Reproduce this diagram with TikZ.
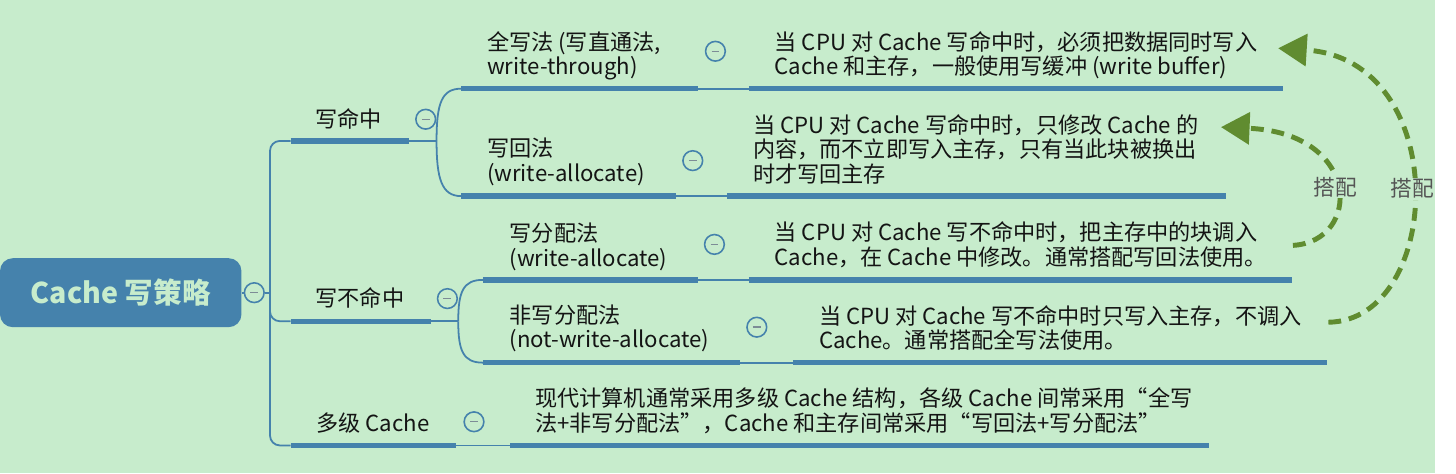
\documentclass[tikz,border=0pt]{standalone}
\usepackage{fontspec}
\setmainfont{Noto Sans CJK SC}
\usetikzlibrary{arrows.meta}

\definecolor{bg}{RGB}{199,236,204}
\definecolor{branch}{RGB}{69,130,172}
\definecolor{match}{RGB}{96,140,48}
\definecolor{ink}{RGB}{20,20,20}
\definecolor{knob}{RGB}{125,140,150}
\definecolor{note}{RGB}{85,85,85}

\tikzset{
	topic/.style={anchor=base west, inner sep=0pt, align=left, text=ink, font=\fontsize{22.5}{25}\selectfont},
	root/.style={rectangle, rounded corners=13pt, fill=branch, minimum width=245pt, minimum height=70pt, text=bg, font=\bfseries\fontsize{29}{29}\selectfont},
	fold/.style={circle, draw=branch, line width=1.6pt, fill=bg, minimum size=20pt, inner sep=0pt,
		path picture={\draw[knob, line width=1.4pt] ([xshift=-4pt]path picture bounding box.center) -- ([xshift=4pt]path picture bounding box.center);}},
	bar/.style={draw=branch, line width=5.5pt},
	link/.style={draw=branch, line width=1.8pt}
}

\begin{document}
\begin{tikzpicture}[x=1pt, y=-1pt,
		pair/.style={draw=match, line width=5pt, dash pattern=on 13pt off 8pt, -{Triangle[length=29pt,width=32pt]}},
		tag/.style={fill=bg, inner sep=1pt, text=note, font=\fontsize{22}{22}\selectfont}]
		\fill[bg] (0,0) rectangle (1456,480);
		
		\node[root] (root) at (122.5,297) {Cache 写策略};
		\node[fold] (f0) at (258,297) {};
		\coordinate (trunk) at (274,297);
		
		\node[topic] (hit) at (320,129) {写命中};
		\node[topic] (miss) at (320,311) {写不命中};
		\node[topic] (multi) at (321,438) {多级 Cache};
		\node[fold] (f1) at (432,121) {};
		\node[fold] (f2) at (454,303) {};
		\node[fold] (f3) at (481,428) {};
		
		\node[topic] (wt) at (494,76) {全写法 (写直通法,\\write-through)};
		\node[topic] (wb) at (494,184) {写回法\\(write-allocate)};
		\node[topic] (wa) at (517,270) {写分配法\\(write-allocate)};
		\node[topic] (nwa) at (517,353) {非写分配法\\(not-write-allocate)};
		\node[fold] (f4) at (726,52) {};
		\node[fold] (f5) at (703,163) {};
		\node[fold] (f6) at (725,248) {};
		\node[fold] (f7) at (768,332) {};
		
		\node[topic] (d1) at (786,76) {当 CPU 对 Cache 写命中时，必须把数据同时写入\\Cache 和主存，一般使用写缓冲 (write buffer)};
		\node[topic] (d2) at (764,185) {当 CPU 对 Cache 写命中时，只修改 Cache 的\\内容，而不立即写入主存，只有当此块被换出\\时才写回主存};
		\node[topic] (d3) at (786,269) {当 CPU 对 Cache 写不命中时，把主存中的块调入\\Cache，在 Cache 中修改。通常搭配写回法使用。};
		\node[topic] (d4) at (831,354) {当 CPU 对 Cache 写不命中时只写入主存，不调入\\Cache。通常搭配全写法使用。};
		\node[topic] (d5) at (543,438) {现代计算机通常采用多级 Cache 结构，各级 Cache 间常采用“全写\\法+非写分配法”，Cache 和主存间常采用“写回法+写分配法”};
		
		\draw[bar] (295,143) coordinate (hitL) -- ++(120,0) coordinate (hitR);
		\draw[bar] (295,326) coordinate (missL) -- ++(142,0) coordinate (missR);
		\draw[bar] (295,452) coordinate (multiL) -- ++(168,0) coordinate (multiR);
		\draw[bar] (468,90) coordinate (wtL) -- ++(240,0) coordinate (wtR);
		\draw[bar] (468,199) coordinate (wbL) -- ++(218,0) coordinate (wbR);
		\draw[bar] (490,284) coordinate (waL) -- ++(218,0) coordinate (waR);
		\draw[bar] (490,368) coordinate (nwaL) -- ++(261,0) coordinate (nwaR);
		\draw[bar] (760,90) coordinate (d1L) -- ++(542,0);
		\draw[bar] (738,199) coordinate (d2L) -- ++(506,0);
		\draw[bar] (760,284) coordinate (d3L) -- ++(551,0);
		\draw[bar] (805,368) coordinate (d4L) -- ++(542,0);
		\draw[bar] (518,452) coordinate (d5L) -- ++(709,0);
		
		\draw[link] (root) -- (f0) -- (trunk);
		\draw[link, rounded corners=10pt] (hitL) -| (trunk) |- (multiL);
		\draw[link, rounded corners=10pt] (trunk) |- (missL);
		
		\draw[link] (hitR) -- ++(28,0) coordinate (hitJ);
		\draw[link] (hitJ) .. controls +(0,-38) and +(-20,0) .. (wtL);
		\draw[link] (hitJ) .. controls +(0,38) and +(-20,0) .. (wbL);
		\draw[link] (missR) -- ++(28,0) coordinate (missJ);
		\draw[link] (missJ) .. controls +(0,-30) and +(-20,0) .. (waL);
		\draw[link] (missJ) .. controls +(0,30) and +(-20,0) .. (nwaL);
		
		\draw[link] (wtR) -- (d1L);
		\draw[link] (wbR) -- (d2L);
		\draw[link] (waR) -- (d3L);
		\draw[link] (nwaR) -- (d4L);
		\draw[link] (multiR) -- (d5L);
		
		\coordinate (fromWa) at (1312,249);
		\coordinate (toWb) at (1239,129);
		\coordinate (fromNwa) at (1348,327);
		\coordinate (toWt) at (1297,49);
		\draw[pair] (fromWa) .. controls +(70,-4) and +(143,6) .. (toWb) node[tag, pos=.5] {搭配};
		\draw[pair] (fromNwa) .. controls +(117,-2) and +(178,11) .. (toWt) node[tag, pos=.5] {搭配};
	\end{tikzpicture}
\end{document}
